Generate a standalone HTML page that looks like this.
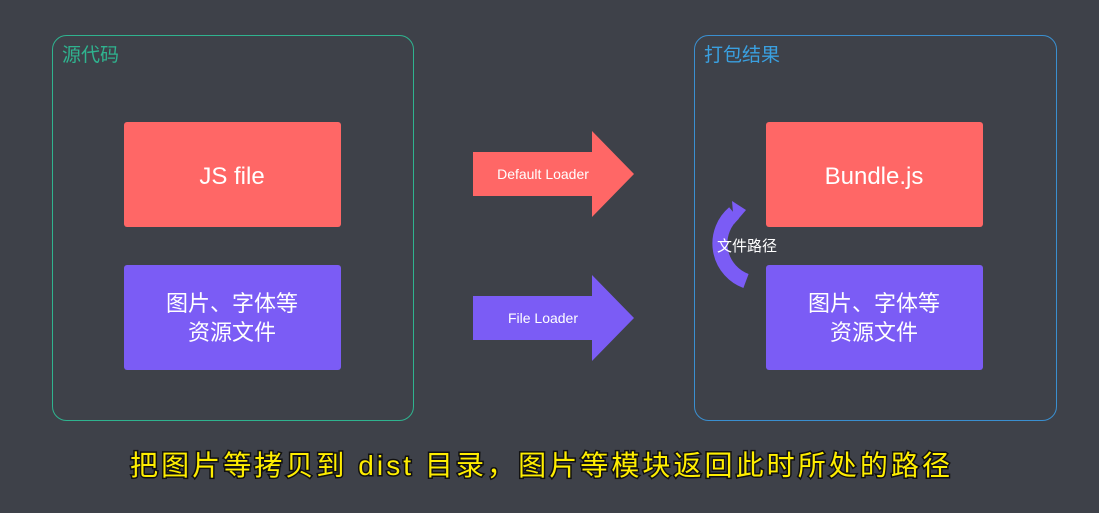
<!DOCTYPE html>
<html><head><meta charset="utf-8"><style>
body{margin:0;background:#3e4149;}
svg{display:block}
text{font-family:"Liberation Sans","Noto Sans CJK SC",sans-serif;}
</style></head><body>
<svg width="1099" height="513" viewBox="0 0 1099 513" xmlns="http://www.w3.org/2000/svg">
<rect width="1099" height="513" fill="#3e4149"/>
<rect x="52.5" y="35.5" width="361" height="385" rx="14" fill="none" stroke="#2fb38f" stroke-width="1"/>
<text x="62" y="61" font-size="19" fill="#2fb38f">源代码</text>
<rect x="694.5" y="35.5" width="362" height="385" rx="14" fill="none" stroke="#3a8fd0" stroke-width="1"/>
<text x="704" y="61" font-size="19" fill="#3aa0e0">打包结果</text>

<rect x="124" y="122" width="217" height="105" rx="3" fill="#ff6766"/>
<text x="232" y="184" font-size="24" fill="#fff" text-anchor="middle">JS file</text>
<rect x="124" y="265" width="217" height="105" rx="3" fill="#7b5cf5"/>
<text x="232" y="311" font-size="22" fill="#fff" text-anchor="middle">图片、字体等</text>
<text x="232" y="340" font-size="22" fill="#fff" text-anchor="middle">资源文件</text>

<rect x="766" y="122" width="217" height="105" rx="3" fill="#ff6766"/>
<text x="874" y="184" font-size="24" fill="#fff" text-anchor="middle">Bundle.js</text>
<rect x="766" y="265" width="217" height="105" rx="3" fill="#7b5cf5"/>
<text x="874" y="311" font-size="22" fill="#fff" text-anchor="middle">图片、字体等</text>
<text x="874" y="340" font-size="22" fill="#fff" text-anchor="middle">资源文件</text>

<polygon points="473,152 592,152 592,131 634,174 592,217 592,196 473,196" fill="#ff6766"/>
<text x="543" y="179" font-size="14" fill="#fff" text-anchor="middle">Default Loader</text>
<polygon points="473,296 592,296 592,275 634,318 592,361 592,340 473,340" fill="#7b5cf5"/>
<text x="543" y="323" font-size="14" fill="#fff" text-anchor="middle">File Loader</text>

<path d="M746,281 A40,40 0 0 1 734,213" fill="none" stroke="#7b5cf5" stroke-width="15"/>
<polygon points="732,201 746,210 734,224" fill="#7b5cf5"/>
<text x="747" y="251" font-size="15" fill="#fff" text-anchor="middle">文件路径</text>

<text x="540" y="475" font-size="28" fill="#ffee00" stroke="#111" stroke-width="3" paint-order="stroke" text-anchor="middle" textLength="820" lengthAdjust="spacing">把图片等拷贝到 dist 目录，图片等模块返回此时所处的路径</text>
</svg>
</body></html>
